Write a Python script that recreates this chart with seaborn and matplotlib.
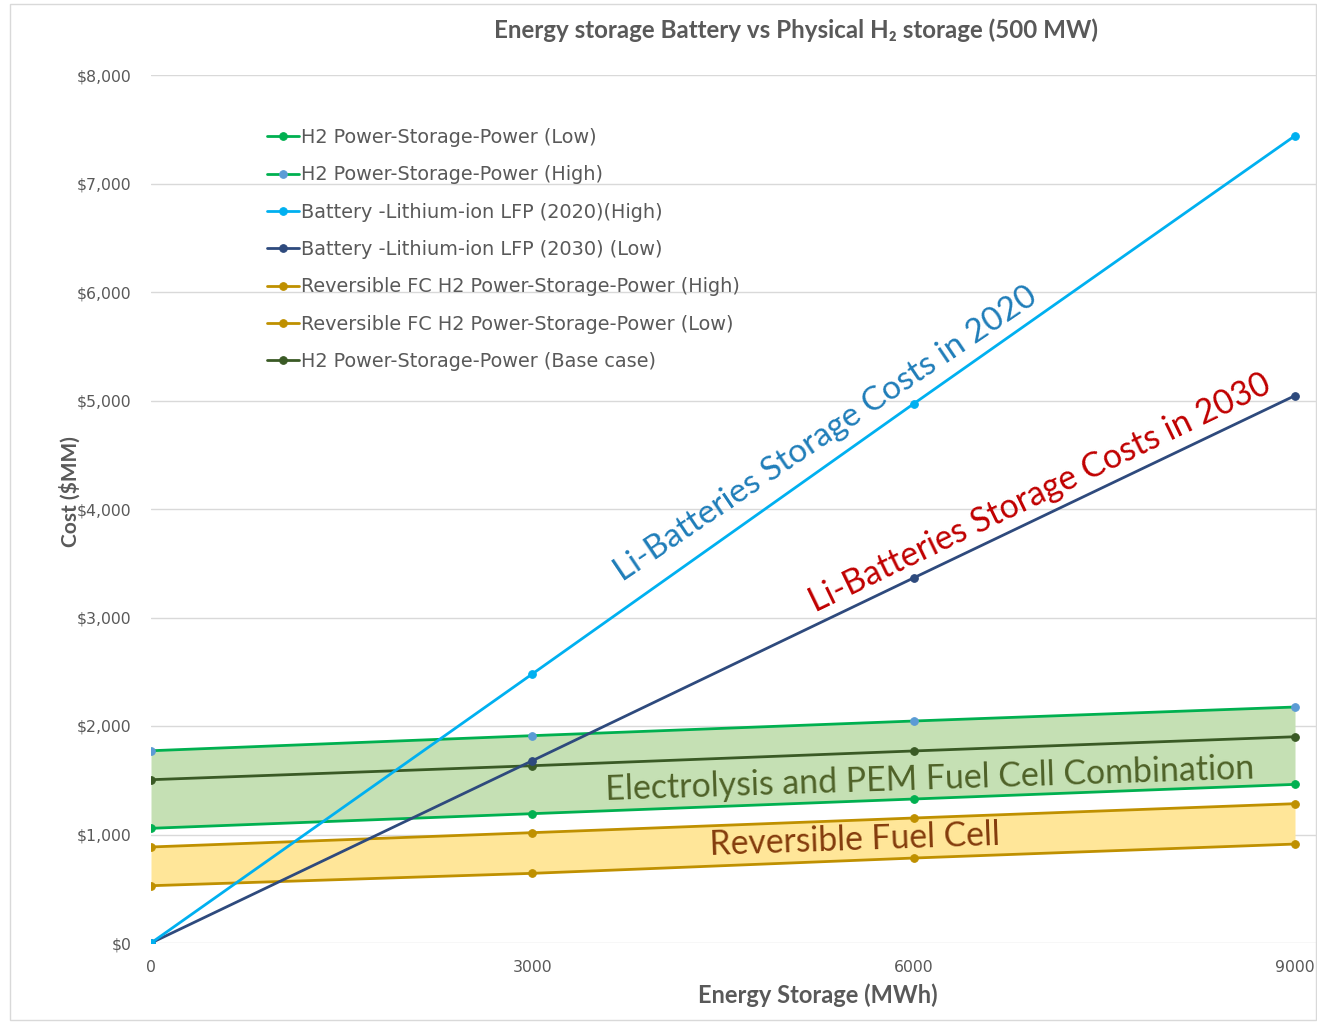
import matplotlib
matplotlib.use("Agg")
import matplotlib.pyplot as plt
from matplotlib.patches import Rectangle
from matplotlib.ticker import FuncFormatter
import seaborn as sns
import pandas as pd

# Energy storage (MWh) and cost ($MM) per scenario
storage_mwh = [0, 3000, 6000, 9000]
h2_low = [1057, 1192, 1327, 1462]
h2_high = [1772, 1911, 2046, 2175]
battery_2020_high = [0, 2480, 4970, 7440]
battery_2030_low = [0, 1680, 3365, 5045]
rfc_high = [885, 1017, 1152, 1284]
rfc_low = [528, 642, 783, 912]
h2_base = [1505, 1634, 1770, 1901]

series_labels = [
    "H2 Power-Storage-Power (Low)",
    "H2 Power-Storage-Power (High)",
    "Battery -Lithium-ion LFP (2020)(High)",
    "Battery -Lithium-ion LFP (2030) (Low)",
    "Reversible FC H2 Power-Storage-Power (High)",
    "Reversible FC H2 Power-Storage-Power (Low)",
    "H2 Power-Storage-Power (Base case)",
]
series_values = [h2_low, h2_high, battery_2020_high, battery_2030_low,
                 rfc_high, rfc_low, h2_base]
line_colors = ["#00b050", "#00b050", "#00b0f0", "#2e4a7d",
               "#bf9000", "#bf9000", "#3a5a25"]
marker_colors = ["#00b050", "#5b9bd5", "#00b0f0", "#2e4a7d",
                 "#bf9000", "#bf9000", "#3a5a25"]

sns.set_theme(style="white")
plt.rcParams["font.family"] = ["DejaVu Sans"]

W, H = 1317, 1025
fig = plt.figure(figsize=(W / 100, H / 100), dpi=100)
ax = fig.add_axes([151 / W, 1 - 943 / H, (1317 - 151) / W, (943 - 75) / H])

# Shaded bands for the two hydrogen technologies
ax.fill_between(storage_mwh, h2_low, h2_high, color="#c5e0b4", zorder=1, lw=0)
ax.fill_between(storage_mwh, rfc_low, rfc_high, color="#ffe699", zorder=1, lw=0)

draw_order = [0, 1, 6, 4, 5, 3, 2]
handles = {}
for i in draw_order:
    df = pd.DataFrame({"x": storage_mwh, "y": series_values[i]})
    sns.lineplot(data=df, x="x", y="y", ax=ax, color=line_colors[i],
                 linewidth=2.0, marker="o", markersize=5.5,
                 markerfacecolor=marker_colors[i], markeredgecolor=marker_colors[i],
                 label=series_labels[i], zorder=3, legend=False)
    handles[i] = ax.lines[-1]

ax.set_xlim(0, 9173)
ax.set_ylim(0, 8000)
ax.set_xticks(storage_mwh)
ax.set_xticklabels([str(v) for v in storage_mwh])
ax.set_yticks(range(0, 8001, 1000))
ax.yaxis.set_major_formatter(FuncFormatter(lambda v, p: f"${v:,.0f}"))
ax.tick_params(axis="both", length=0, labelsize=11.3, labelcolor="#595959")
ax.tick_params(axis="y", pad=14)
ax.tick_params(axis="x", pad=12)
ax.grid(axis="y", color="#d9d9d9", linewidth=1.0)
ax.set_axisbelow(True)
for s in ax.spines.values():
    s.set_visible(False)

ax.set_xlabel("Energy Storage (MWh)", fontsize=17, fontweight="bold",
              color="#595959", family=["Lato"])
ax.xaxis.set_label_coords((818 - 151) / 1166, (943 - 995) / 868)
ax.xaxis.label.set_va("center")
ax.set_ylabel("Cost ($MM)", fontsize=15, fontweight="bold",
              color="#595959", family=["Lato"])
ax.yaxis.set_label_coords((70 - 151) / 1166, (943 - 492) / 868)
ax.yaxis.label.set_va("center")

fig.text(796 / W, 1 - 30 / H,
         "Energy storage Battery vs Physical H\u2082 storage (500 MW)",
         ha="center", va="center", fontsize=17.4, fontweight="bold",
         color="#595959", family=["Lato", "DejaVu Sans"])

leg = ax.legend([handles[i] for i in range(7)], series_labels,
                loc="upper left", bbox_to_anchor=(267 / W, 1 - 128 / H),
                bbox_transform=fig.transFigure, frameon=False,
                fontsize=13.9, handlelength=1.65, handletextpad=0.1,
                labelspacing=0.95, borderpad=0, borderaxespad=0)
for t in leg.get_texts():
    t.set_color("#595959")

# Callout labels along the curves and bands
callouts = [
    ("Li-Batteries Storage Costs in 2020", 3713, 3327, 34.0, "#1f7db9", 24.0),
    ("Li-Batteries Storage Costs in 2030", 5224, 3041, 25.8, "#c00000", 24.3),
    ("Electrolysis and PEM Fuel Cell Combination", 3580, 1318, 1.9, "#4f6228", 24.4),
    ("Reversible Fuel Cell", 4398, 811, 2.0, "#843c0c", 24.2),
]
for text, x, y, rot, col, size in callouts:
    ax.text(x, y, text, rotation=rot, rotation_mode="anchor", ha="left",
            va="baseline", color=col, fontsize=size, family=["Lato"], zorder=5)

fig.patches.append(Rectangle((10 / W, 1 - 1020 / H), (1316 - 10) / W, (1020 - 4) / H,
                             transform=fig.transFigure, fill=False,
                             edgecolor="#d9d9d9", linewidth=1.0))

fig.savefig("out.png", dpi=100)
